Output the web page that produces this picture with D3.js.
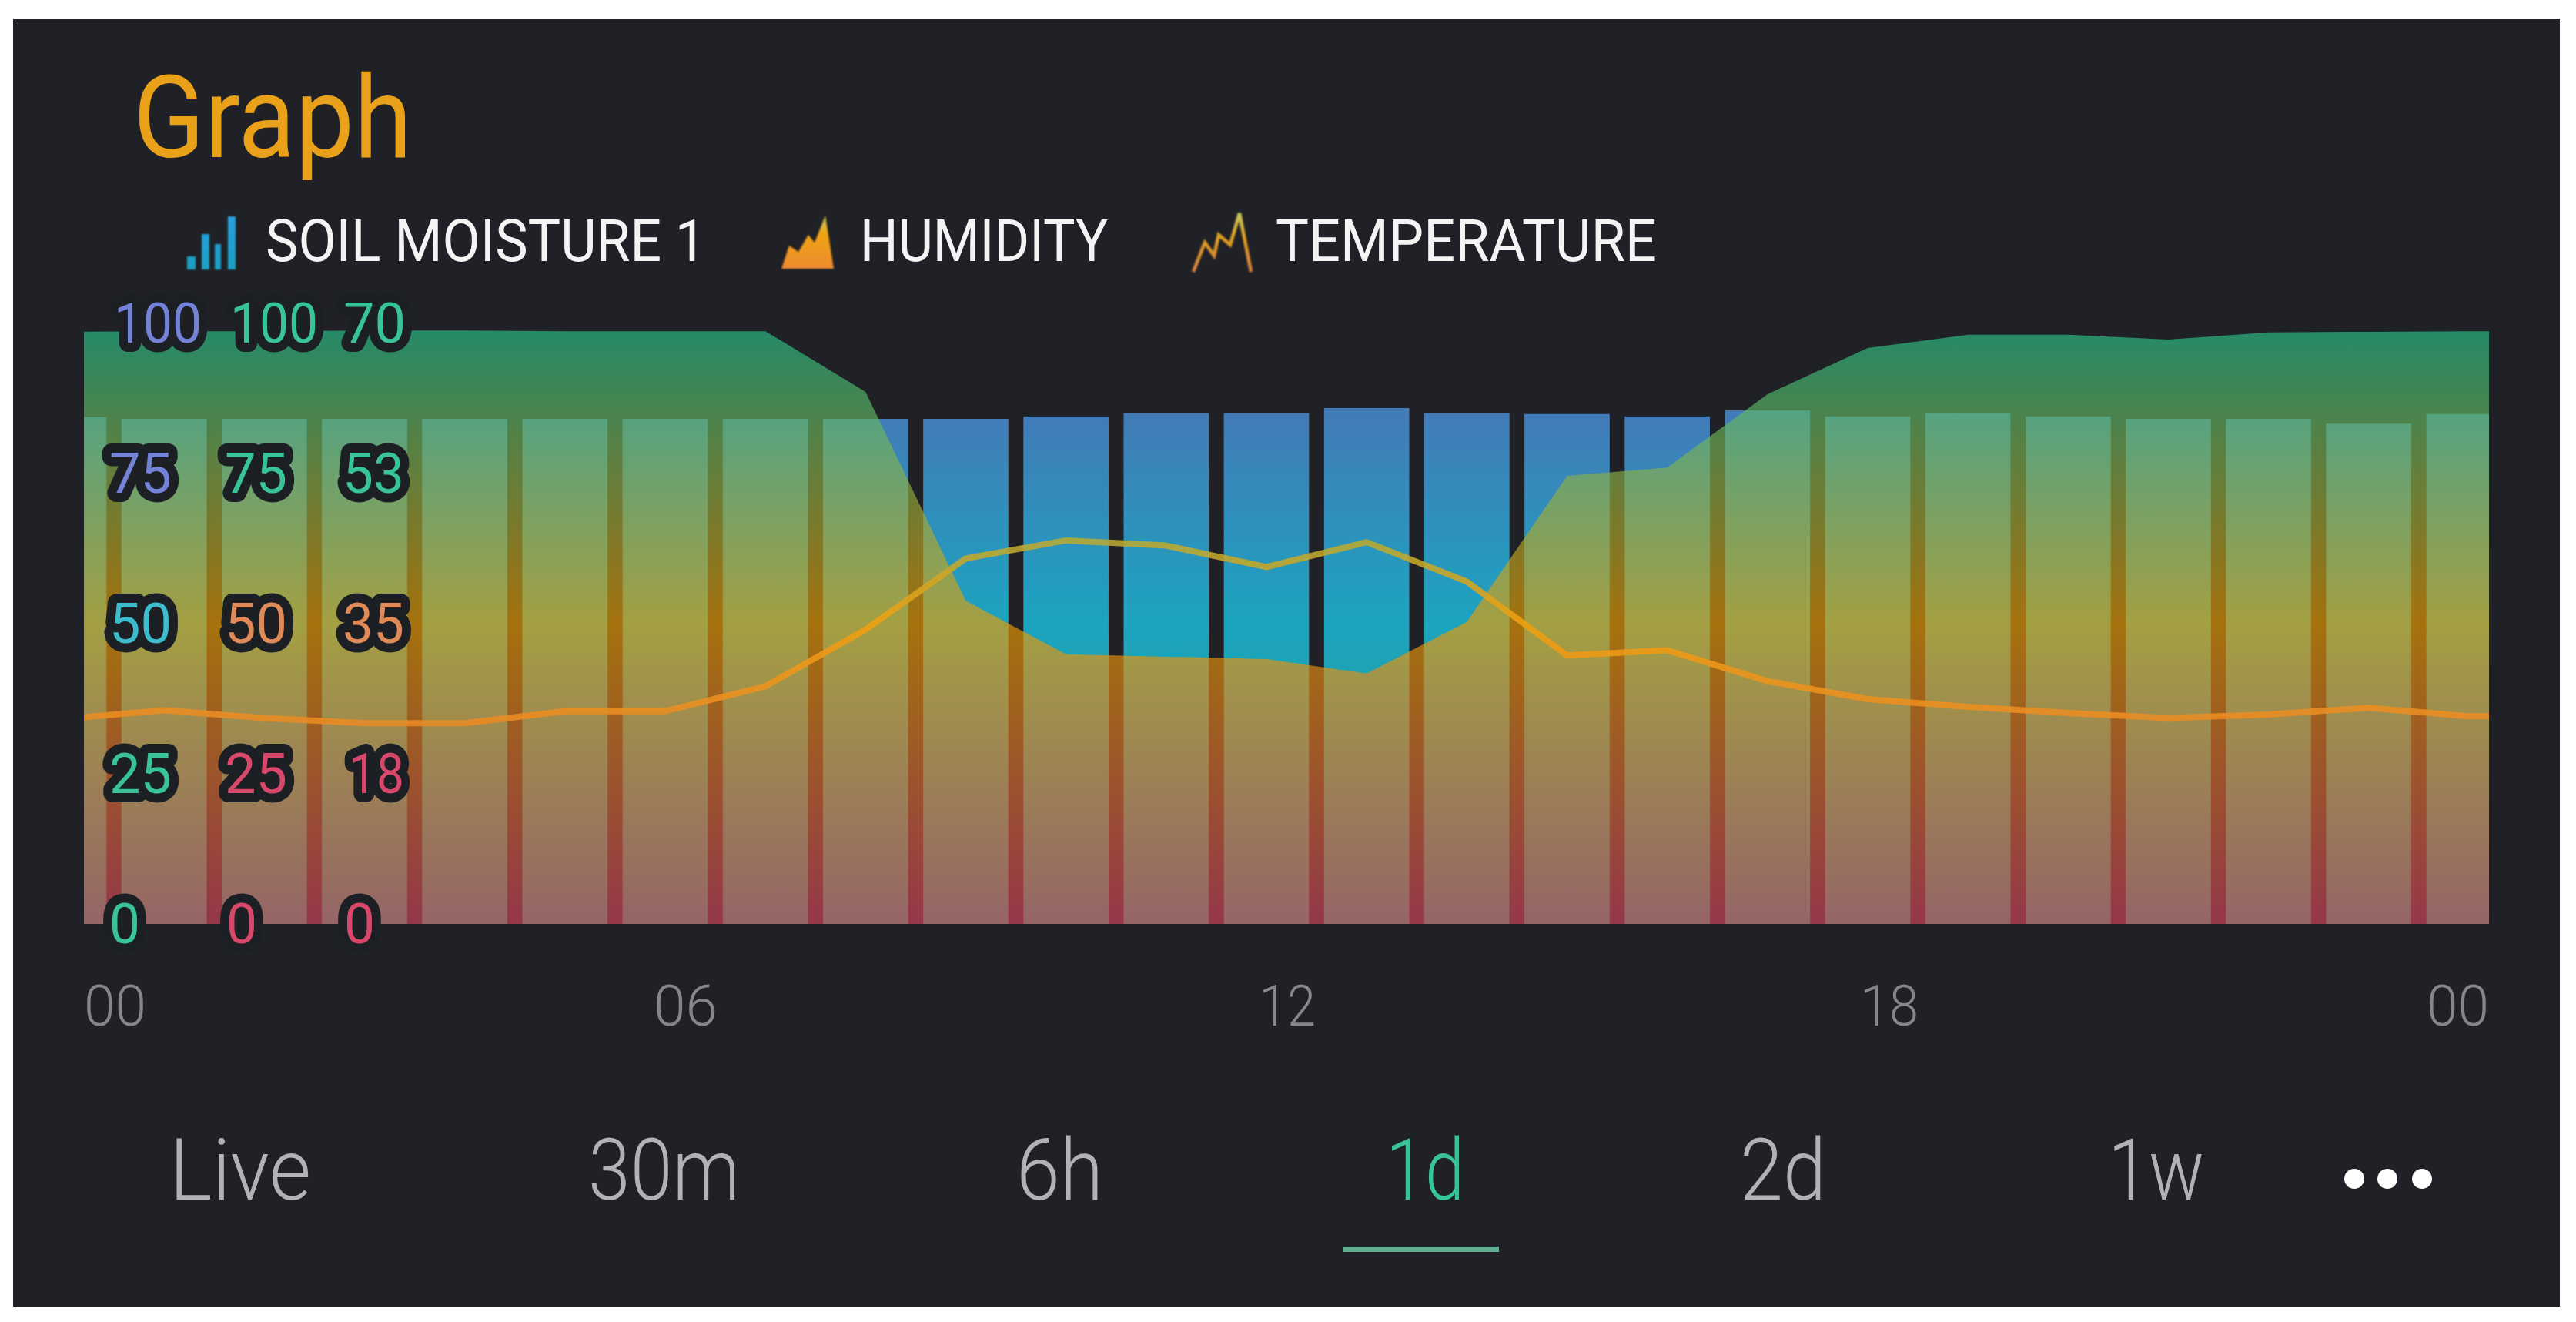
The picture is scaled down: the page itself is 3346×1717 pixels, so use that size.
<!DOCTYPE html>
<html>
<head>
<meta charset="utf-8">
<script src="https://cdnjs.cloudflare.com/ajax/libs/d3/7.9.0/d3.min.js"></script>
<style>
html,body{margin:0;padding:0;background:#fff;overflow:hidden}
svg{display:block}
text{font-family:Roboto,"Open Sans",sans-serif}
</style>
</head>
<body>
<svg id="c" width="3346" height="1717"></svg>
<script>
// ---- data ----
const hours = d3.range(25);
const soilMoisture = [84.4,84.1,84.1,84.1,84.1,84.1,84.1,84.1,84.1,84.1,84.5,85.1,85.1,85.9,85.1,84.9,84.5,85.5,84.5,85.1,84.5,84.1,84.1,83.3,84.9];
const humidity = [98.6,98.7,98.7,98.8,98.8,98.7,98.7,98.7,88.6,53.8,44.9,44.5,44.1,41.7,50.3,74.6,76.0,88.2,95.9,98.1,98.1,97.3,98.5,98.6,98.7];
const temperature = [23.9,24.9,24.0,23.4,23.4,24.8,24.8,27.7,34.3,42.6,44.7,44.1,41.6,44.5,39.9,31.3,31.9,28.3,26.2,25.3,24.6,24.0,24.4,25.2,24.2];
const xTickHours = [0,6,12,18,24];
const xTickLabels = ["00","06","12","18","00"];
const yRows = [100,75,50,25,0];
const soilTicks = ["100","75","50","25","0"];
const humidityTicks = ["100","75","50","25","0"];
const temperatureTicks = ["70","53","35","18","0"];
const legendNames = ["SOIL MOISTURE 1","HUMIDITY","TEMPERATURE"];
const periods = ["Live","30m","6h","1d","2d","1w"];

// ---- palette ----
const BG="#202126", GREEN="#23C48E", ORANGE="#ED9D00", RED="#D3435C", PURPLE="#5F7CD8", BLUE="#1BC4E6";
const LBL_GREEN="#38c498", LBL_PURPLE="#7482d8", LBL_BLUE="#3cbccc", LBL_ORANGE="#e08a58", LBL_RED="#d8486a";
const HALO="#1c1f24";

// ---- layout ----
const plot={l:109,r:3233,t:420,b:1200};
const x=d3.scaleLinear().domain([0,24]).range([plot.l,plot.r]);
const y=d3.scaleLinear().domain([0,100]).range([plot.b,plot.t]);
const yT=d3.scaleLinear().domain([0,70]).range([plot.b,plot.t]);
const sampleOffset=-0.2, barW=0.85;
const xs=h=>x(h+sampleOffset);
// the last reading is held flat up to the right edge of the plot
const lastH=hours[hours.length-1];
const at=(arr,h)=>arr[Math.min(Math.floor(h),lastH)];
const extended=hours.concat([lastH+0.2]);

const svg=d3.select("#c");
const defs=svg.append("defs");
function grad(id,stops,x1,y1,x2,y2){
  const g=defs.append("linearGradient").attr("id",id).attr("gradientUnits","userSpaceOnUse")
    .attr("x1",x1).attr("y1",y1).attr("x2",x2).attr("y2",y2);
  stops.forEach(s=>g.append("stop").attr("offset",s[0]).attr("stop-color",s[1]));
}
grad("cold",[[0,PURPLE],[.5,BLUE],[1,GREEN]],0,plot.t,0,plot.b);
grad("hot",[[0,GREEN],[.5,ORANGE],[1,RED]],0,plot.t,0,plot.b);
grad("lineHot",[[0,GREEN],[.5,"#F0A010"],[1,"#E0604A"]],0,plot.t,0,plot.b);
grad("icoBlue",[[0,"#2a9fe0"],[1,"#1a9fc0"]],0,281,0,350);
grad("icoHum",[[0,"#c8c860"],[.35,"#eea414"],[1,"#ee8a30"]],0,280,0,349);
grad("icoTmp",[[0,"#c8c860"],[.4,"#e0a020"],[1,"#d88040"]],0,277,0,353);
defs.append("clipPath").attr("id","clip").append("rect")
  .attr("x",plot.l).attr("y",0).attr("width",plot.r-plot.l).attr("height",plot.b);
defs.append("filter").attr("id","soft").append("feGaussianBlur").attr("stdDeviation",1.2);

// panel
svg.append("rect").attr("x",17).attr("y",25).attr("width",3308).attr("height",1672).attr("fill",BG);

// fits a text item into a measured width
function fit(sel,w){return sel.attr("textLength",w).attr("lengthAdjust","spacingAndGlyphs");}

// title
fit(svg.append("text").attr("x",173).attr("y",204).attr("font-size",148).attr("font-weight",400)
  .attr("fill","#e9a11a").text("Graph"),362);

// legend
const legendX=[345,1117,1657], legendW=[572,322,495];
legendNames.forEach((n,i)=>{
  fit(svg.append("text").attr("x",legendX[i]).attr("y",339).attr("font-size",76).attr("font-weight",400)
    .attr("fill","#f4f4f4").text(n),legendW[i]);
});
// legend icons
const icons=svg.append("g").attr("filter","url(#soft)");
[[243,11,17],[262,10,46],[279,8,33],[296,10,69]].forEach(b=>
  icons.append("rect").attr("x",b[0]).attr("y",350-b[2]).attr("width",b[1]).attr("height",b[2]).attr("fill","url(#icoBlue)"));
const icoLine=d3.line();
icons.append("path").attr("fill","url(#icoHum)")
  .attr("d",icoLine([[1015,349],[1025,319],[1037,327],[1050,305],[1058,315],[1072,280],[1083,349]])+"Z");
icons.append("path").attr("fill","none").attr("stroke","url(#icoTmp)").attr("stroke-width",4.5)
  .attr("d",icoLine([[1550,353],[1565,315],[1577,332],[1583,305],[1598,318],[1610,277],[1625,353]]));

// marks
const g=svg.append("g").attr("clip-path","url(#clip)");
g.selectAll("rect.bar").data(hours).join("rect").attr("class","bar")
  .attr("x",h=>xs(h)-(x(barW)-x(0))/2).attr("width",x(barW)-x(0))
  .attr("y",h=>y(soilMoisture[h])).attr("height",h=>y(0)-y(soilMoisture[h]))
  .attr("fill","url(#cold)").attr("fill-opacity",.8);
g.append("path").datum(extended)
  .attr("d",d3.area().x(xs).y0(y(0)).y1(h=>y(at(humidity,h))))
  .attr("fill","url(#hot)").attr("fill-opacity",.65);
g.append("path").datum(extended)
  .attr("d",d3.line().x(xs).y(h=>yT(at(temperature,h))))
  .attr("fill","none").attr("stroke","url(#lineHot)").attr("stroke-width",8).attr("stroke-opacity",.88)
  .attr("stroke-linejoin","round");

// y labels with dark halo
const yColumns=[
 {labels:soilTicks, colors:[LBL_PURPLE,LBL_PURPLE,LBL_BLUE,LBL_GREEN,LBL_GREEN], xs:[148,142,142,142,142], ws:[114,81,81,81,40]},
 {labels:humidityTicks, colors:[LBL_GREEN,LBL_GREEN,LBL_ORANGE,LBL_RED,LBL_RED], xs:[299,292,292,292,294], ws:[114,81,81,81,40]},
 {labels:temperatureTicks, colors:[LBL_GREEN,LBL_GREEN,LBL_ORANGE,LBL_RED,LBL_RED], xs:[446,445,445,453,447], ws:[81,80,80,72,40]}
];
yColumns.forEach(c=>{
  c.labels.forEach((t,i)=>{
    fit(svg.append("text").attr("x",c.xs[i]).attr("y",y(yRows[i])+25).attr("font-size",72).attr("font-weight",400)
      .attr("fill",c.colors[i]).attr("stroke",HALO).attr("stroke-width",24).attr("stroke-linejoin","round")
      .attr("paint-order","stroke").text(t),c.ws[i]);
  });
});

// x axis
const xAxis=d3.axisBottom(x).tickValues(xTickHours).tickFormat((d,i)=>xTickLabels[i]).tickSize(0).tickPadding(0);
const ax=svg.append("g").attr("transform","translate(0,1332)").call(xAxis);
ax.select(".domain").remove();
const xTickStart=[109,849,1635,2416,3152], xTickW=[81,83,74,76,81];
ax.selectAll(".tick").attr("transform",null);
ax.selectAll(".tick text").each(function(d,i){
  const s=d3.select(this).attr("x",xTickStart[i]).attr("y",0).attr("dy",0).attr("text-anchor","start")
    .attr("font-size",75).attr("font-weight",300).attr("fill","#85858a").style("font-family","Roboto");
  fit(s,xTickW[i]);
});

// period selector
const pX=[220,764,1320,1800,2260,2738], pW=[184,197,113,102,112,125];
periods.forEach((p,i)=>{
  fit(svg.append("text").attr("x",pX[i]).attr("y",1558).attr("font-size",112).attr("font-weight",300)
    .attr("fill",p==="1d"?LBL_GREEN:"#b2b2b4").text(p),pW[i]);
});
svg.append("rect").attr("x",1744).attr("y",1619).attr("width",203).attr("height",7).attr("fill","#62ad92");
[3058,3101,3146].forEach(cx=>svg.append("circle").attr("cx",cx).attr("cy",1531).attr("r",13).attr("fill","#fff"));
</script>
</body>
</html>
